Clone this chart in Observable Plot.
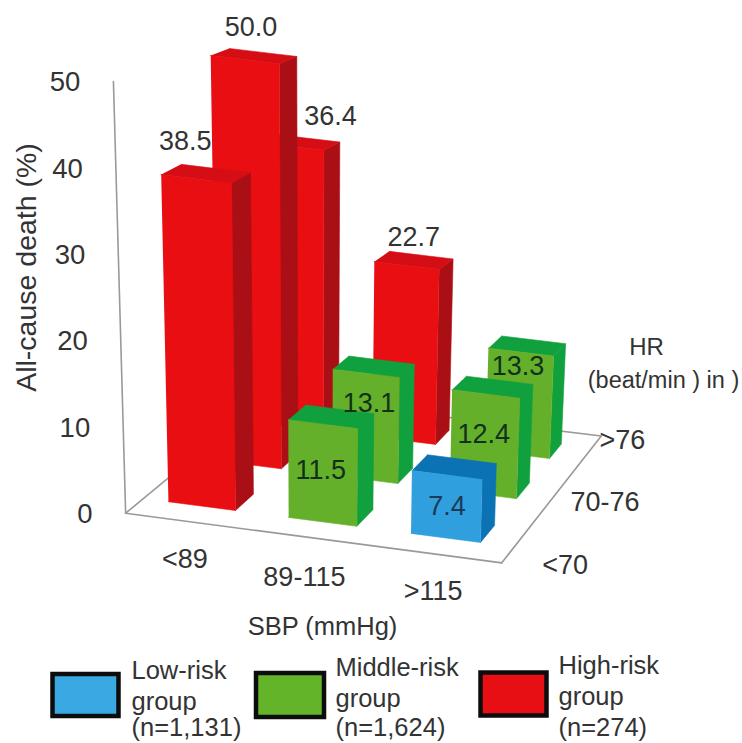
<!DOCTYPE html>
<html>
<head>
<meta charset="utf-8">
<script src="https://cdn.jsdelivr.net/npm/d3@7"></script>
<script src="https://cdn.jsdelivr.net/npm/@observablehq/plot@0.6"></script>
<style>
  html, body { margin: 0; padding: 0; background: #fff; }
  svg { display: block; }
</style>
</head>
<body>
<div id="chart"></div>
<script>
// Categories
const sbpLabels = ["<89", "89-115", ">115"];
const hrLabels = ["<70", "70-76", ">76"];
const yTicks = [0, 10, 20, 30, 40, 50];

// All-cause death (%), one list per HR band, columns follow sbpLabels
const deathLow = [38.5, 11.5, 7.4];
const deathMid = [50.0, 13.1, 12.4];
const deathHigh = [36.4, 22.7, 13.3];

// Risk group per HR band
const riskLow = ["High", "Middle", "Low"];
const riskMid = ["High", "Middle", "Middle"];
const riskHigh = ["High", "High", "Middle"];

// Legend entries
const legendNames = ["Low-risk", "Middle-risk", "High-risk"];
const legendRisks = ["Low", "Middle", "High"];
const legendCounts = ["(n=1,131)", "(n=1,624)", "(n=274)"];

const palette = {
  Low: {front: "#2f9fde", side: "#0b72b4", top: "#0b72b4", swatch: "#3aa8e2", label: "#1b3a58"},
  Middle: {front: "#64b02a", side: "#10a03e", top: "#10a03e", swatch: "#64b42a", label: "#12301a"},
  High: {front: "#e80e12", side: "#a90f14", top: "#d50d14", swatch: "#e80f14", label: "#333"}
};

// Camera: the floor (u, v) is a perspective view of the square spanned by the
// three columns and three rows, and heights lean away from a vanishing column.
const width = 742, height = 743;
const floorQuad = [[235, 510], [480, 542], [549, 458], [323, 430]];
const floorSpan = 2;
const vanishX = 313, lean = 0.0013;
const unitNear = 8.5, unitFade = 0.4;
const barWidth = 0.56, barDepth = 0.38;
const floorU = [-0.77, 2.27], floorV = [-0.34, 2.7];

const homography = (() => {
  const [[x0, y0], [x1, y1], [x2, y2], [x3, y3]] = floorQuad;
  const dx1 = x1 - x2, dx2 = x3 - x2, sx = x0 - x1 + x2 - x3;
  const dy1 = y1 - y2, dy2 = y3 - y2, sy = y0 - y1 + y2 - y3;
  const den = dx1 * dy2 - dx2 * dy1;
  const g = (sx * dy2 - dx2 * sy) / den, h = (dx1 * sy - sx * dy1) / den;
  return {a: x1 - x0 + g * x1, b: x3 - x0 + h * x3, c: x0,
          d: y1 - y0 + g * y1, e: y3 - y0 + h * y3, f: y0, g, h};
})();

function project(u, v, z) {
  const {a, b, c, d, e, f, g, h} = homography;
  const s = u / floorSpan, t = v / floorSpan;
  const w = g * s + h * t + 1;
  const fx = (a * s + b * t + c) / w, fy = (d * s + e * t + f) / w;
  return {x: fx + (fx - vanishX) * z * lean, y: fy - z * (unitNear - unitFade * v)};
}

// Assemble the three visible faces of each bar, back row first
const rows = [deathLow, deathMid, deathHigh];
const risks = [riskLow, riskMid, riskHigh];
const faces = [];
function addFace(id, fill, corners) {
  for (const [u, v, z] of corners) faces.push({...project(u, v, z), face: id, fill});
}
for (let j = 2; j >= 0; j--) {
  for (let i = 0; i < 3; i++) {
    const z = rows[j][i], c = palette[risks[j][i]];
    const uL = i - barWidth, uR = i, vF = j, vB = j + barDepth;
    addFace(`${i}-${j}-side`, c.side, [[uR, vF, 0], [uR, vB, 0], [uR, vB, z], [uR, vF, z]]);
    addFace(`${i}-${j}-top`, c.top, [[uL, vF, z], [uR, vF, z], [uR, vB, z], [uL, vB, z]]);
    addFace(`${i}-${j}-front`, c.front, [[uL, vF, 0], [uR, vF, 0], [uR, vF, z], [uL, vF, z]]);
  }
}

// Value labels, set relative to the top centre of the front face
const labelNudge = [
  [[-11, -38], [-2, 46], [0, 31]],
  [[6, -32], [3, 30], [-2, 40]],
  [[39, -30], [7, -28], [-3, 14]]
];
const valueLabels = [];
for (let j = 0; j < 3; j++) {
  for (let i = 0; i < 3; i++) {
    const z = rows[j][i], p = project(i - barWidth / 2, j, z);
    valueLabels.push({
      x: p.x + labelNudge[j][i][0],
      y: p.y + labelNudge[j][i][1],
      text: z.toFixed(1),
      ink: palette[risks[j][i]].label
    });
  }
}

// Floor outline and the vertical axis
const [uA, uB] = floorU, [vA, vB] = floorV;
const axisLines = [
  {id: "back", pts: [[uA, vB, 0], [uB, vB, 0]]},
  {id: "left", pts: [[uA, vA, 0], [uA, vB, 0]]},
  {id: "front", pts: [[uA, vA, 0], [uB, vA, 0]]},
  {id: "right", pts: [[uB, vA, 0], [uB, vB, 0]]},
  {id: "up", pts: [[uA, vA, 0], [uA, vA, d3.max(yTicks)]]}
].flatMap(({id, pts}) => pts.map(([u, v, z]) => ({...project(u, v, z), id})));

const tickLabels = yTicks.map(t => {
  const p = project(uA, vA, t);
  return {x: p.x - 33, y: p.y + 1, text: String(t)};
});

// Category labels along the two floor edges
const sbpNudge = [[0, 38], [-3, 40], [1, 38]];
const sbpText = sbpLabels.map((text, i) => {
  const p = project(i - barWidth / 2, vA, 0);
  return {x: p.x + sbpNudge[i][0], y: p.y + sbpNudge[i][1], text};
});
const hrNudge = [[44, 27], [50, 8], [36, -15]];
const hrText = hrLabels.map((text, j) => {
  const p = project(uB, j + barDepth / 2, 0);
  return {x: p.x + hrNudge[j][0], y: p.y + hrNudge[j][1], text};
});

const swatches = legendRisks.map((risk, k) => ({
  x1: [52.5, 256, 480.5][k], x2: [118.5, 324, 546.5][k],
  y1: [674, 673, 672.5][k], y2: [716, 717, 715.5][k],
  fill: palette[risk].swatch
}));
// The last line of each legend entry stays clear of the bottom edge
const legendText = legendNames.flatMap((name, k) => {
  const x = [131, 335, 558][k], y = [670, 667, 665][k];
  return [name, "group", legendCounts[k]].map((text, n) => ({x, y: Math.min(y + n * 31.5, 727), text}));
});

const fontFamily = "'Liberation Sans', Arial, sans-serif";
const ink = "#333";

const chart = Plot.plot({
  width, height,
  margin: 0,
  style: {background: "#fff", fontFamily},
  x: {axis: null, domain: [0, width], range: [0, width]},
  y: {axis: null, domain: [0, height], range: [0, height]},
  color: {type: "identity"},
  marks: [
    Plot.line(axisLines, {x: "x", y: "y", z: "id", stroke: "#999", strokeWidth: 1.6}),
    Plot.line(faces, {x: "x", y: "y", z: "face", fill: "fill", stroke: "fill", strokeWidth: 0.6}),
    Plot.text(valueLabels, {x: "x", y: "y", text: "text", fontSize: 27, fill: "ink"}),
    Plot.text(tickLabels, {x: "x", y: "y", text: "text", textAnchor: "end", fontSize: 27.5, fill: ink}),
    Plot.text(sbpText, {x: "x", y: "y", text: "text", fontSize: 27, fill: ink}),
    Plot.text(hrText, {x: "x", y: "y", text: "text", fontSize: 27, fill: ink}),
    Plot.text(["All-cause death (%)"], {x: () => 26, y: () => 267, text: d => d, rotate: -90, fontSize: 28.5, fill: ink}),
    Plot.text(["SBP (mmHg)"], {x: () => 322, y: () => 626, text: d => d, fontSize: 25.5, fill: ink}),
    Plot.text(["HR"], {x: () => 646, y: () => 347, text: d => d, fontSize: 24, fill: ink}),
    Plot.text(["(beat/min ) in )"], {x: () => 663, y: () => 380, text: d => d, fontSize: 23.5, fill: ink}),
    Plot.rect(swatches, {x1: "x1", x2: "x2", y1: "y1", y2: "y2", fill: "fill", stroke: "#0c0c0c", strokeWidth: 4.5}),
    Plot.text(legendText, {x: "x", y: "y", text: "text", textAnchor: "start", fontSize: 25.5, fill: ink})
  ]
});
document.getElementById("chart").append(chart);
</script>
</body>
</html>
